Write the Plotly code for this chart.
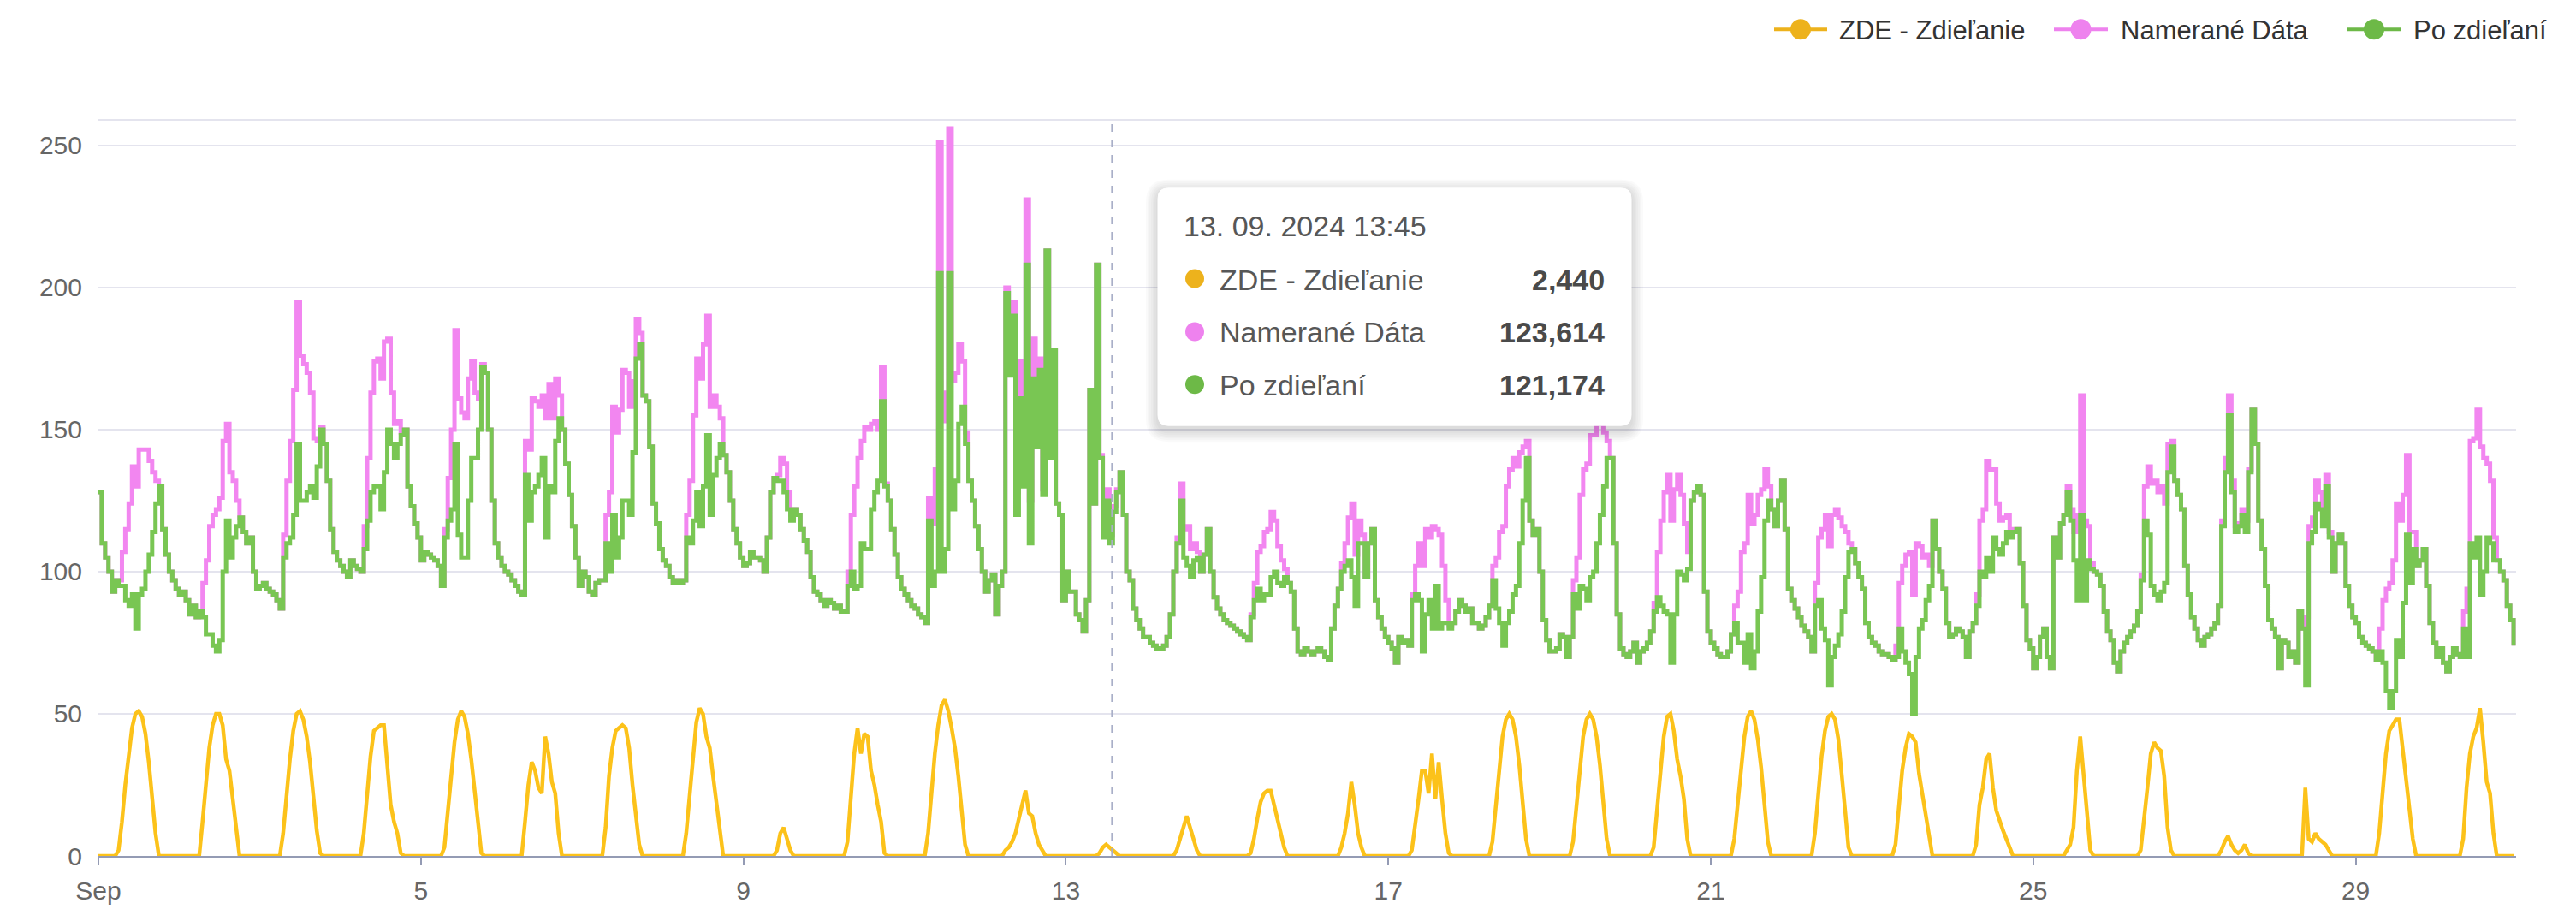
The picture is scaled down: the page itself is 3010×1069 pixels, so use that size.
import plotly.graph_objects as go
import pandas as pd

# ---------------- data (hourly readings, one row per day, Sep 1 .. Sep 30 2024) ----------------
zde_zdielanie = [
    [0,0,0,0,0,0,2,12,25,36,45,50,51,49,43,33,21,8,0,0,0,0,0,0],
    [0,0,0,0,0,0,0,12,26,38,46,50,50,46,34,30,20,9,0,0,0,0,0,0],
    [0,0,0,0,0,0,0,8,22,34,44,50,51,48,42,33,21,9,1,0,0,0,0,0],
    [0,0,0,0,0,0,0,8,22,35,44,45,46,46,32,18,12,8,1,0,0,0,0,0],
    [0,0,0,0,0,0,0,3,15,28,40,48,51,49,43,34,23,11,1,0,0,0,0,0],
    [0,0,0,0,0,0,0,12,25,33,30,24,22,42,36,26,22,8,0,0,0,0,0,0],
    [0,0,0,0,0,0,0,10,28,38,44,45,46,45,38,25,14,4,0,0,0,0,0,0],
    [0,0,0,0,0,0,0,8,22,37,47,52,50,42,38,28,18,9,0,0,0,0,0,0],
    [0,0,0,0,0,0,0,0,0,0,2,8,10,6,2,0,0,0,0,0,0,0,0,0],
    [0,0,0,0,0,0,0,5,20,36,45,36,43,42,30,25,18,12,1,0,0,0,0,0],
    [0,0,0,0,0,0,0,8,22,36,46,53,55,51,45,38,28,16,4,0,0,0,0,0],
    [0,0,0,0,0,0,2,3,5,8,13,18,23,15,14,8,4,2,0,0,0,0,0,0],
    [0,0,0,0,0,0,0,0,0,0,1,3,4,3,2,1,0,0,0,0,0,0,0,0],
    [0,0,0,0,0,0,0,0,0,2,6,10,14,10,6,2,0,0,0,0,0,0,0,0],
    [0,0,0,0,0,0,0,1,6,13,19,22,23,23,18,13,9,3,0,0,0,0,0,0],
    [0,0,0,0,0,0,0,0,0,0,3,8,15,26,18,8,3,0,0,0,0,0,0,0],
    [0,0,0,0,0,0,0,2,10,20,30,30,22,36,20,33,20,8,1,0,0,0,0,0],
    [0,0,0,0,0,0,0,5,18,32,42,48,50,48,42,32,19,6,0,0,0,0,0,0],
    [0,0,0,0,0,0,0,5,18,32,42,48,50,48,42,32,19,6,0,0,0,0,0,0],
    [0,0,0,0,0,0,0,3,16,30,42,49,50,44,34,28,20,6,0,0,0,0,0,0],
    [0,0,0,0,0,0,0,6,18,32,42,49,51,48,41,31,18,5,0,0,0,0,0,0],
    [0,0,0,0,0,0,0,8,22,35,44,49,50,48,41,30,16,3,0,0,0,0,0,0],
    [0,0,0,0,0,0,0,4,16,30,38,43,42,40,29,22,16,7,0,0,0,0,0,0],
    [0,0,0,0,0,0,0,4,18,24,34,36,24,16,12,9,6,3,0,0,0,0,0,0],
    [0,0,0,0,0,0,0,0,0,0,2,4,10,30,42,28,12,2,0,0,0,0,0,0],
    [0,0,0,0,0,0,0,0,2,12,24,36,40,38,37,28,10,2,0,0,0,0,0,0],
    [0,0,0,0,0,0,0,0,2,5,7,4,2,1,2,4,1,0,0,0,0,0,0,0],
    [0,0,0,0,0,0,0,0,0,24,6,5,8,6,5,4,2,0,0,0,0,0,0,0],
    [0,0,0,0,0,0,0,8,22,36,44,46,48,48,38,28,18,6,0,0,0,0,0,0],
    [0,0,0,0,0,0,0,0,6,24,36,42,45,52,40,26,22,8,0,0,0,0,0,0],
]

namerane_data = [
    [128,110,105,100,93,97,97,107,115,124,137,130,143,143,143,139,135,132,130,115,106,100,97,94],
    [92,93,90,85,88,84,86,96,104,116,120,122,126,146,152,135,132,125,119,114,110,112,100,94],
    [95,96,94,93,92,90,87,113,132,146,164,195,176,173,170,163,147,146,151,145,132,115,107,104],
    [102,100,98,104,102,101,100,116,140,163,174,175,168,181,182,163,152,153,149,150,130,123,117,112],
    [104,107,106,105,104,102,95,115,133,150,185,161,156,154,168,174,163,161,173,170,150,125,110,105],
    [102,100,99,97,95,93,92,146,143,161,160,158,162,154,166,154,168,162,150,138,127,116,105,95],
    [100,98,93,92,96,97,97,120,128,158,149,157,171,170,158,167,189,184,162,160,144,124,117,108],
    [104,102,98,96,97,96,97,120,132,155,175,168,180,190,158,162,158,154,141,135,125,115,110,105],
    [102,103,107,105,105,104,100,112,128,133,134,140,138,128,120,122,120,115,111,107,98,93,92,90],
    [88,90,89,87,88,86,86,100,120,130,140,146,151,150,152,153,150,172,131,125,115,106,98,94],
    [92,90,88,87,85,84,82,126,117,136,251,153,163,256,167,170,180,174,149,132,125,116,108,100],
    [93,97,99,85,95,100,200,172,195,128,174,148,231,125,182,152,175,129,213,140,178,124,120,90],
    [100,93,93,85,83,79,90,164,124,208,141,115,129,113,123,129,135,120,100,97,87,83,80,77],
    [77,75,74,73,73,74,77,85,100,112,131,115,116,108,110,107,100,106,115,100,91,87,85,83],
    [82,81,80,79,78,77,76,85,96,107,109,114,115,121,118,109,104,101,96,93,80,72,71,73],
    [72,71,72,73,72,70,69,80,88,94,103,110,119,124,106,118,113,98,110,115,90,84,80,77],
    [75,73,68,77,75,76,74,92,102,110,102,115,112,116,115,113,102,90,81,82,86,90,88,86],
    [87,82,82,80,81,84,88,102,105,114,116,130,136,140,137,142,144,146,118,113,115,100,83,76],
    [72,72,73,78,77,70,77,97,105,127,136,138,148,148,152,152,149,146,140,110,85,73,71,70],
    [72,75,68,72,73,75,79,89,107,118,128,134,118,129,134,127,117,107,125,128,130,127,93,79],
    [75,73,71,70,70,72,78,88,93,107,110,127,117,120,127,129,136,130,122,116,125,132,115,94],
    [90,87,84,81,79,77,72,96,112,115,120,109,120,122,119,116,114,110,108,103,98,94,82,77],
    [75,74,72,71,71,70,69,74,96,102,106,107,92,110,109,105,106,102,118,108,100,94,82,77],
    [78,80,79,77,70,79,82,92,118,122,139,136,136,124,118,119,120,115,114,115,103,88,76,73],
    [66,70,77,80,70,66,112,105,117,120,130,122,114,120,162,118,116,103,100,99,95,86,79,76],
    [68,65,72,75,77,79,81,86,99,130,137,131,132,128,130,124,145,146,132,127,122,102,92,84],
    [80,76,74,77,78,80,82,88,118,140,162,132,116,117,122,118,136,157,145,118,108,95,83,80],
    [77,66,76,75,70,72,68,86,80,84,116,119,132,128,121,134,114,100,110,113,110,95,88,84],
    [82,77,75,74,73,72,69,80,90,94,96,104,124,118,127,141,114,114,102,104,108,95,82,75],
    [70,73,68,65,70,73,71,70,86,94,146,147,157,144,140,138,132,112,104,100,97,88,83,74],
]

po_zdielani = [
    [128,110,105,100,93,97,95,95,90,88,92,80,92,94,100,106,114,124,130,115,106,100,97,94],
    [92,93,90,85,88,84,86,84,78,78,74,72,76,100,118,105,112,116,119,114,110,112,100,94],
    [95,96,94,93,92,90,87,105,110,112,120,145,125,125,128,130,126,137,150,145,132,115,107,104],
    [102,100,98,104,102,101,100,108,118,128,130,130,122,135,150,145,140,145,148,150,130,123,117,112],
    [104,107,106,105,104,102,95,112,118,122,145,113,105,105,125,140,140,150,172,170,150,125,110,105],
    [102,100,99,97,95,93,92,134,118,128,130,134,140,112,130,128,146,154,150,138,127,116,105,95],
    [100,98,93,92,96,97,97,110,100,120,105,112,125,125,120,142,175,180,162,160,144,124,117,108],
    [104,102,98,96,97,96,97,112,110,118,128,116,130,148,120,134,140,145,141,135,125,115,110,105],
    [102,103,107,105,105,104,100,112,128,133,132,132,128,122,118,122,120,115,111,107,98,93,92,90],
    [88,90,89,87,88,86,86,95,100,94,95,110,108,108,122,128,132,160,130,125,115,106,98,94],
    [92,90,88,87,85,84,82,118,95,100,205,100,108,205,122,132,152,158,145,132,125,116,108,100],
    [93,97,99,85,95,100,198,169,190,120,161,130,208,110,168,144,171,127,213,140,178,124,120,90],
    [100,93,93,85,83,79,90,164,124,208,140,112,125,110,121,128,135,120,100,97,87,83,80,77],
    [77,75,74,73,73,74,77,85,100,110,125,105,102,98,104,105,100,106,115,100,91,87,85,83],
    [82,81,80,79,78,77,76,84,90,94,90,92,92,98,100,96,95,98,96,93,80,72,71,73],
    [72,71,72,73,72,70,69,80,88,94,100,102,104,98,88,110,110,98,110,115,90,84,80,77],
    [75,73,68,77,75,76,74,90,92,90,72,85,90,80,95,80,82,82,80,82,86,90,88,86],
    [87,82,82,80,81,84,88,97,87,82,74,82,86,92,95,110,125,140,118,113,115,100,83,76],
    [72,72,73,78,77,70,77,92,87,95,94,90,98,100,110,120,130,140,140,110,85,73,71,70],
    [72,75,68,72,73,75,79,86,91,88,86,85,68,85,100,99,97,101,125,128,130,127,93,79],
    [75,73,71,70,70,72,78,82,75,75,68,78,66,72,86,98,118,125,122,116,125,132,115,94],
    [90,87,84,81,79,77,72,88,90,80,76,60,70,74,78,86,98,107,108,103,98,94,82,77],
    [75,74,72,71,71,70,69,70,80,72,68,64,50,70,80,83,90,95,118,108,100,94,82,77],
    [78,80,79,77,70,79,82,88,100,98,105,100,112,108,106,110,114,112,114,115,103,88,76,73],
    [66,70,77,80,70,66,112,105,117,120,128,118,104,90,120,90,104,101,100,99,95,86,79,76],
    [68,65,72,75,77,79,81,86,97,118,113,95,92,90,93,96,135,144,132,127,122,102,92,84],
    [80,76,74,77,78,80,82,88,116,135,155,128,114,116,120,114,135,157,145,118,108,95,83,80],
    [77,66,76,75,70,72,68,86,80,60,110,114,124,122,116,130,112,100,110,113,110,95,88,84],
    [82,77,75,74,73,72,69,72,68,58,52,58,76,70,89,113,96,108,102,104,108,95,82,75],
    [70,73,68,65,70,73,71,70,80,70,110,105,112,92,100,112,110,104,104,100,97,88,83,74],
]

series_names = ["ZDE - Zdieľanie", "Namerané Dáta", "Po zdieľaní"]
x_tick_dates = ["2024-09-01", "2024-09-05", "2024-09-09", "2024-09-13",
                "2024-09-17", "2024-09-21", "2024-09-25", "2024-09-29"]
x_tick_text = ["Sep", "5", "9", "13", "17", "21", "25", "29"]
y_tick_vals = [0, 50, 100, 150, 200, 250]
y_tick_text = ["0", "50", "100", "150", "200", "250"]

tooltip_time = "2024-09-13 13:45"
tooltip_title = "13. 09. 2024 13:45"
tooltip_values = [2.440, 123.614, 121.174]

# ---------------- styling ----------------
LINE_COLORS = ["#FCC21A", "#F286F0", "#79C653"]
DOT_COLORS = ["#EDB21C", "#EE82EE", "#6DB947"]
GRID = "#E4E4EE"
AXIS = "#949BB4"
FONT = "Liberation Sans, Arial, sans-serif"

W, H = 3010, 1069
PL, PR, PT, PB = 115, 2940, 140, 1002


def fx(px):
    return (px - PL) / (PR - PL)


def fy(py):
    return (PB - py) / (PB - PT)


def flat(rows):
    return [v for r in rows for v in r]


times = pd.date_range("2024-09-01 00:00", periods=24 * len(po_zdielani), freq="h")

fig = go.Figure()
fig.add_trace(go.Scatter(x=times, y=flat(namerane_data), mode="lines", name=series_names[1],
                         line=dict(color=LINE_COLORS[1], width=5, shape="hv"),
                         showlegend=False, hoverinfo="skip"))
fig.add_trace(go.Scatter(x=times, y=flat(po_zdielani), mode="lines", name=series_names[2],
                         line=dict(color=LINE_COLORS[2], width=5, shape="hv"),
                         showlegend=False, hoverinfo="skip"))
fig.add_trace(go.Scatter(x=times, y=flat(zde_zdielanie), mode="lines", name=series_names[0],
                         line=dict(color=LINE_COLORS[0], width=4.5), showlegend=False, hoverinfo="skip",
                         cliponaxis=False))

shapes = []
annotations = []

# top border line of the plot area
shapes.append(dict(type="line", xref="paper", yref="paper", x0=0, x1=1, y0=1, y1=1,
                   line=dict(color=GRID, width=2), layer="below"))

# crosshair line at tooltip time
shapes.append(dict(type="line", xref="x", yref="paper", x0=tooltip_time, x1=tooltip_time, y0=0, y1=1,
                   line=dict(color="#A9AFC8", width=2, dash="dash"), layer="above"))

# ---------------- manual legend ----------------
legend_items = [(2073, 2135, 2147), (2400, 2463, 2476), (2742, 2806, 2818)]
LEG_Y = 34
for i, (l0, l1, tx) in enumerate(legend_items):
    shapes.append(dict(type="line", xref="paper", yref="paper", x0=fx(l0), x1=fx(l1),
                       y0=fy(LEG_Y), y1=fy(LEG_Y), line=dict(color=DOT_COLORS[i], width=4)))
    cx = (l0 + l1) / 2
    r = 12
    shapes.append(dict(type="circle", xref="paper", yref="paper", x0=fx(cx - r), x1=fx(cx + r),
                       y0=fy(LEG_Y + r), y1=fy(LEG_Y - r), fillcolor=DOT_COLORS[i],
                       line=dict(color=DOT_COLORS[i], width=0)))
    annotations.append(dict(xref="paper", yref="paper", x=fx(tx), y=fy(LEG_Y + 1), xanchor="left",
                            yanchor="middle", text=series_names[i], showarrow=False,
                            font=dict(family=FONT, size=31, color="#333333")))


# ---------------- tooltip ----------------
def rounded_rect(x0, y0, x1, y1, r):
    # pixel coords (y down) -> path in paper coords
    pts = []
    pts.append(f"M {fx(x0 + r)},{fy(y0)}")
    pts.append(f"L {fx(x1 - r)},{fy(y0)}")
    pts.append(f"Q {fx(x1)},{fy(y0)} {fx(x1)},{fy(y0 + r)}")
    pts.append(f"L {fx(x1)},{fy(y1 - r)}")
    pts.append(f"Q {fx(x1)},{fy(y1)} {fx(x1 - r)},{fy(y1)}")
    pts.append(f"L {fx(x0 + r)},{fy(y1)}")
    pts.append(f"Q {fx(x0)},{fy(y1)} {fx(x0)},{fy(y1 - r)}")
    pts.append(f"L {fx(x0)},{fy(y0 + r)}")
    pts.append(f"Q {fx(x0)},{fy(y0)} {fx(x0 + r)},{fy(y0)}")
    pts.append("Z")
    return " ".join(pts)


BX0, BY0, BX1, BY1 = 1353, 220, 1906, 498
for k in range(7, 0, -1):
    shapes.append(dict(type="path", xref="paper", yref="paper",
                       path=rounded_rect(BX0 - k * 2, BY0 - k * 2 + 4, BX1 + k * 2, BY1 + k * 2 + 5, 12 + k * 2),
                       fillcolor="rgba(0,0,0,0.018)", line=dict(width=0), layer="above"))
shapes.append(dict(type="path", xref="paper", yref="paper", path=rounded_rect(BX0, BY0, BX1, BY1, 12),
                   fillcolor="#FFFFFF", line=dict(color="#FFFFFF", width=1), layer="above"))

annotations.append(dict(xref="paper", yref="paper", x=fx(1381), y=fy(264), xanchor="left", yanchor="middle",
                        text=tooltip_title, showarrow=False,
                        font=dict(family=FONT, size=34, color="#575757")))
row_y = [326, 388, 450]
for i, yy in enumerate(row_y):
    r = 11
    shapes.append(dict(type="circle", xref="paper", yref="paper", x0=fx(1396 - r), x1=fx(1396 + r),
                       y0=fy(yy + r), y1=fy(yy - r), fillcolor=DOT_COLORS[i],
                       line=dict(color=DOT_COLORS[i], width=0), layer="above"))
    annotations.append(dict(xref="paper", yref="paper", x=fx(1423), y=fy(yy + 1), xanchor="left",
                            yanchor="middle", text=series_names[i], showarrow=False,
                            font=dict(family=FONT, size=34, color="#575757")))
    val = f"{tooltip_values[i]:,.3f}".replace(".", ",")
    annotations.append(dict(xref="paper", yref="paper", x=fx(1877), y=fy(yy + 1), xanchor="right",
                            yanchor="middle", text=f"<b>{val}</b>", showarrow=False,
                            font=dict(family=FONT, size=34, color="#4A4A4A")))

fig.update_layout(
    width=W, height=H,
    margin=dict(l=PL, r=W - PR, t=PT, b=H - PB, pad=0),
    paper_bgcolor="white", plot_bgcolor="white",
    showlegend=False,
    font=dict(family=FONT, size=30, color="#666666"),
    shapes=shapes,
    annotations=annotations,
    xaxis=dict(
        type="date",
        range=["2024-09-01 00:00", "2024-09-30 23:45"],
        tickmode="array", tickvals=x_tick_dates, ticktext=x_tick_text,
        showgrid=False, zeroline=False,
        showline=True, linecolor=AXIS, linewidth=2,
        ticks="outside", ticklen=9, tickwidth=2, tickcolor=AXIS,
        tickfont=dict(family=FONT, size=30, color="#666666"),
        ticklabelstandoff=4,
    ),
    yaxis=dict(
        range=[0, 259],
        tickmode="array", tickvals=y_tick_vals, ticktext=y_tick_text,
        showgrid=True, gridcolor=GRID, gridwidth=2,
        zeroline=False, showline=False, ticks="",
        tickfont=dict(family=FONT, size=30, color="#666666"),
        ticklabelstandoff=18,
    ),
)

fig.write_html("out.html", config={"displayModeBar": False},
               post_script="document.body.style.margin='0';document.body.style.overflow='hidden';")
